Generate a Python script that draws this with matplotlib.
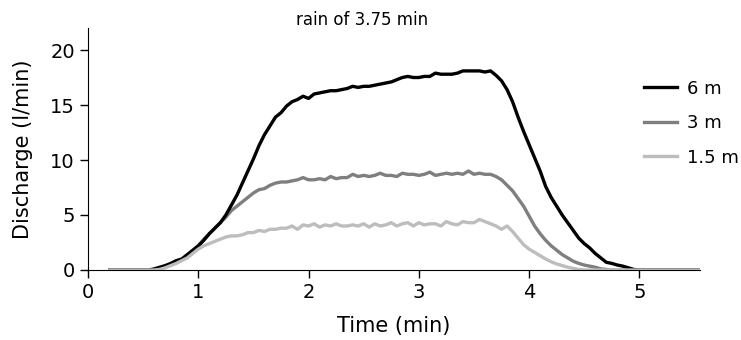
import numpy as np
import matplotlib
matplotlib.use('agg')
import matplotlib.pyplot as plt

plt.rcParams['font.family'] = ['DejaVu Sans']

# sampling instants (min)
time = np.round(np.arange(0.2, 5.5501, 0.05), 2)

# discharge (l/min)
q_6m = [0] * 8 + [
    0.1, 0.25, 0.4, 0.6, 0.85, 1.0, 1.4, 1.8, 2.2, 2.7,
    3.3, 3.8, 4.3, 5.0, 5.9, 6.8, 7.9, 9.0, 10.1, 11.3,
    12.3, 13.1, 13.9, 14.3, 14.9, 15.3, 15.5, 15.8, 15.6, 16.0,
    16.1, 16.2, 16.3, 16.3, 16.4, 16.5, 16.7, 16.6, 16.7, 16.7,
    16.8, 16.9, 17.0, 17.1, 17.3, 17.5, 17.6, 17.5, 17.5, 17.6,
    17.6, 17.9, 17.8, 17.8, 17.8, 17.9, 18.1, 18.1, 18.1, 18.1,
    18.0, 18.1, 17.7, 17.2, 16.4, 15.3, 13.9, 12.6, 11.4, 10.2,
    9.0, 7.6, 6.6, 5.8, 5.0, 4.3, 3.6, 2.9, 2.4, 2.0,
    1.5, 1.1, 0.7, 0.6, 0.45, 0.35, 0.2, 0.05] + [0] * 12

q_3m = [0] * 9 + [
    0.1, 0.25, 0.45, 0.7, 0.95, 1.3, 1.7, 2.2, 2.8, 3.3,
    3.8, 4.3, 4.8, 5.4, 5.8, 6.2, 6.6, 7.0, 7.3, 7.4,
    7.7, 7.9, 8.0, 8.0, 8.1, 8.2, 8.4, 8.2, 8.2, 8.3,
    8.2, 8.5, 8.3, 8.4, 8.4, 8.7, 8.5, 8.6, 8.5, 8.6,
    8.8, 8.6, 8.6, 8.5, 8.8, 8.7, 8.7, 8.6, 8.7, 8.9,
    8.6, 8.7, 8.8, 8.7, 8.8, 8.7, 9.0, 8.7, 8.8, 8.7,
    8.7, 8.5, 8.2, 7.7, 7.2, 6.5, 5.8, 4.9, 4.0, 3.3,
    2.7, 2.2, 1.8, 1.4, 1.1, 0.8, 0.6, 0.45, 0.35, 0.25,
    0.1, 0.05] + [0] * 17

q_15m = [0] * 9 + [
    0.05, 0.2, 0.4, 0.6, 0.85, 1.1, 1.5, 1.9, 2.2, 2.4,
    2.6, 2.8, 3.0, 3.1, 3.1, 3.2, 3.4, 3.4, 3.6, 3.5,
    3.7, 3.7, 3.8, 3.8, 4.0, 3.7, 4.1, 4.0, 4.2, 3.9,
    4.1, 4.0, 4.2, 4.0, 4.0, 4.1, 4.0, 4.2, 3.9, 4.2,
    4.0, 4.1, 4.3, 4.0, 4.2, 4.3, 4.0, 4.3, 4.1, 4.2,
    4.2, 4.0, 4.4, 4.2, 4.1, 4.4, 4.3, 4.3, 4.6, 4.4,
    4.2, 4.0, 3.7, 4.0, 3.5, 2.9, 2.3, 1.9, 1.6, 1.3,
    1.0, 0.75, 0.55, 0.4, 0.25, 0.15, 0.05] + [0] * 22

fig = plt.figure(figsize=(7.41, 3.4), dpi=100)
ax = fig.add_axes([0.1188, 0.2059, 0.8259, 0.7117])

ax.plot(time, q_3m, color='#7f7f7f', lw=2.4, label='3 m')
ax.plot(time, q_6m, color='black', lw=2.4, label='6 m')
ax.plot(time, q_15m, color='#bdbdbd', lw=2.4, label='1.5 m')

ax.set_xlim(0, 5.55)
ax.set_ylim(0, 22)
ax.set_xticks([0, 1, 2, 3, 4, 5])
ax.set_yticks([0, 5, 10, 15, 20])
ax.spines['top'].set_visible(False)
ax.spines['right'].set_visible(False)
ax.tick_params(direction='out', length=6, width=1, labelsize=14)
ax.set_xlabel('Time (min)', fontsize=15, labelpad=10)
ax.set_ylabel('Discharge (l/min)', fontsize=15, labelpad=12)

fig.text(0.489, 0.941, 'rain of 3.75 min', ha='center', va='center', fontsize=12)

h, l = ax.get_legend_handles_labels()
order = [1, 0, 2]
ax.legend([h[i] for i in order], [l[i] for i in order], loc='upper left',
          bbox_to_anchor=(0.869, 0.766), bbox_transform=fig.transFigure,
          frameon=False, fontsize=13, handlelength=1.85, handletextpad=0.55,
          labelspacing=0.92, borderpad=0, borderaxespad=0)

plt.savefig('out.png', dpi=100)
